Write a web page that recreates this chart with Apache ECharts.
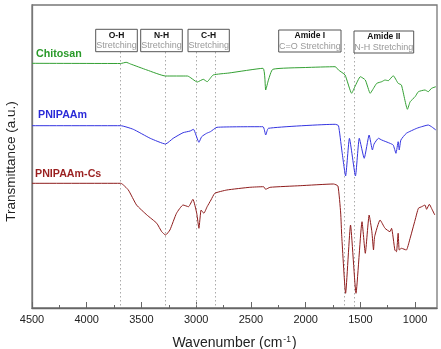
<!DOCTYPE html>
<html><head><meta charset="utf-8">
<script src="https://cdn.jsdelivr.net/npm/echarts@6/dist/echarts.min.js"></script>
<style>html,body{margin:0;padding:0;background:#fff}#c{width:441px;height:349px}</style>
</head><body><div id="c"></div>
<script>
// Wavenumber (cm^-1), transmittance (a.u., offset curves)
const chitosan = [[4500,244.7],[3690,244.5],[3640,245.7],[3600,244],[3450,238],[3280,232],[3080,232],[2990,226],[2935,228.7],[2900,226.3],[2845,233],[2700,235],[2390,239.7],[2365,218],[2340,228],[2300,238.7],[2000,240.5],[1730,241.3],[1700,238],[1640,233],[1580,214.7],[1550,221.3],[1500,231.3],[1455,228],[1410,214.7],[1380,219.7],[1350,224.7],[1305,226.3],[1275,228],[1245,227.3],[1200,232.3],[1155,224.7],[1125,223],[1070,198.7],[1045,206.3],[1000,211.3],[970,216.3],[910,218],[880,216.3],[850,219.7],[810,221.3]];
const pnipaam = [[4500,182.3],[3690,182.3],[3575,178.7],[3420,169.7],[3280,164],[3210,169.7],[3120,175.3],[3055,177],[3025,178.7],[2975,165.7],[2950,171.3],[2905,174.7],[2870,176.3],[2810,180.7],[2390,181.3],[2365,173],[2340,179.7],[1730,183.7],[1700,182.3],[1670,158],[1635,132],[1600,169.7],[1545,132],[1510,169.7],[1465,149.7],[1420,173],[1390,158],[1375,164],[1335,169.7],[1305,168],[1230,164.7],[1200,163],[1175,154.7],[1155,166.3],[1145,158],[1130,168],[1080,174.7],[985,179.7],[940,181.3],[880,183],[850,181.3],[810,178]];
const pnipaamCs = [[4500,124.7],[3690,124.7],[3620,118],[3545,103],[3450,93],[3360,84.7],[3315,76.3],[3280,73],[3240,78],[3180,94.7],[3120,103],[3070,101.3],[3030,108.7],[2995,94.7],[2975,79.7],[2955,98],[2930,94.7],[2900,101.3],[2865,108],[2830,114.7],[2720,118],[2510,120.7],[2385,121.3],[2365,118.7],[2325,120.7],[2050,122.3],[1745,124],[1705,122],[1680,95],[1670,71.3],[1635,14.7],[1590,83],[1540,14.7],[1485,86.3],[1455,54.7],[1420,93],[1395,76.3],[1380,58],[1370,71.3],[1320,88],[1275,79.7],[1230,76.3],[1215,79.7],[1185,58],[1170,56.3],[1155,74.7],[1145,58],[1125,59.7],[1080,58],[1050,68],[1000,88],[970,99.7],[940,101.3],[910,103],[895,98.7],[870,103.7],[850,99.7],[820,93]];
const seriesNames = ['Chitosan','PNIPAAm','PNIPAAm-Cs'];
const majorTicks = [1000,1500,2000,2500,3000,3500,4000,4500];
const minorTicks = [1250,1750,2250,2750,3250,3750,4250];
// reference band lines: [wavenumber, top value]
const bandLines = [[3690,256],[3280,256],[3000,256],[2830,256],[1645,264],[1555,255]];
const boxTitles = ['O-H','N-H','C-H','Amide I','Amide II'];
const boxSubs = ['Stretching','Stretching','Stretching','C=O Stretching','N-H Stretching'];

const colors = ['#33a033','#3434e0','#8e1c1c'];
const labelColors = ['#2a9a2a','#2a2ad8','#9a1f1f'];
const labelPos = [[36,54],[38,115],[35,174]];
const boxRects = [[95.7,29.3,41.6,22.4],[140.7,29.3,41.6,22.4],[188,29.3,41.3,22.4],[278.7,30,62.3,22],[354,31,59.7,22]];

const graphic = [];
boxRects.forEach((r,i)=>{
  graphic.push({type:'rect',shape:{x:r[0],y:r[1],width:r[2],height:r[3]},style:{fill:'#fff',stroke:'#555',lineWidth:1},z:100});
  graphic.push({type:'text',x:r[0]+r[2]/2,y:r[1]+6,style:{text:boxTitles[i],fill:'#111',font:'bold 8.5px "Liberation Sans", Arial, sans-serif',textAlign:'center',textVerticalAlign:'middle'},z:101});
  graphic.push({type:'text',x:r[0]+r[2]/2,y:r[1]+16.5,style:{text:boxSubs[i],fill:'#999',font:'9px "Liberation Sans", Arial, sans-serif',textAlign:'center',textVerticalAlign:'middle'},z:101});
});
seriesNames.forEach((n,i)=>{
  graphic.push({type:'text',x:labelPos[i][0],y:labelPos[i][1],style:{text:n,fill:labelColors[i],font:'bold 10.7px "Liberation Sans", Arial, sans-serif',textAlign:'left',textVerticalAlign:'middle'},z:101});
});

const chart = echarts.init(document.getElementById('c'),null,{renderer:'canvas'});
const datasets = [chitosan,pnipaam,pnipaamCs];
const series = datasets.map((d,i)=>({
  type:'line',name:seriesNames[i],data:d,showSymbol:false,symbol:'none',smooth:0.15,
  lineStyle:{color:colors[i],width:1},xAxisIndex:0,z:5,
}));
series[0].markLine = {
  silent:true,symbol:'none',label:{show:false},
  lineStyle:{color:'#aaa',type:[1.5,2.5],width:1},
  data:bandLines.map(b=>[{coord:[b[0],b[1]]},{coord:[b[0],0]}])
};
const ff = '"Liberation Sans", Arial, sans-serif';
chart.setOption({
  animation:false,
  graphic:graphic,
  grid:{left:32,right:4,top:5,bottom:41,show:true,borderColor:'#777',borderWidth:1.3,outerBoundsMode:'none',containLabel:false},
  xAxis:[{
    type:'value',min:800,max:4500,inverse:true,
    axisLine:{show:true,lineStyle:{color:'#666',width:1.3}},
    axisTick:{show:true,inside:true,length:6,customValues:majorTicks,lineStyle:{color:'#666'}},
    axisLabel:{customValues:majorTicks,color:'#222',fontSize:11,margin:6,fontFamily:ff,formatter:v=>String(v)},
    splitLine:{show:false},
    name:'{a|Wavenumber (cm}{s|-1}{a|)}',nameLocation:'middle',nameGap:27,
    nameTextStyle:{rich:{a:{fontSize:14,color:'#222',fontFamily:ff},s:{fontSize:8.5,color:'#222',verticalAlign:'top',padding:[0,1,8,1],fontFamily:ff}}}
  },{
    type:'value',min:800,max:4500,inverse:true,position:'bottom',
    axisLine:{show:false},
    axisTick:{show:true,inside:true,length:3,customValues:minorTicks,lineStyle:{color:'#666'}},
    axisLabel:{show:false},splitLine:{show:false}
  }],
  yAxis:{
    type:'value',min:0,max:303,
    axisLine:{show:true,lineStyle:{color:'#777',width:1.3}},axisTick:{show:false},axisLabel:{show:false},splitLine:{show:false},
    name:'Transmittance (a.u.)',nameLocation:'middle',nameGap:14,
    nameTextStyle:{fontSize:13.5,color:'#222',fontFamily:ff,padding:[0,10,0,0]}
  },
  series:series
});
</script></body></html>
